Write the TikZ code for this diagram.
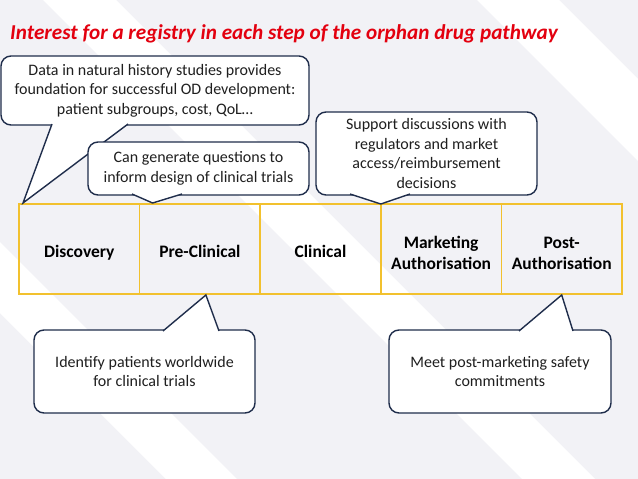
\documentclass[tikz,border=0pt]{standalone}
\usepackage{fontspec}
\setmainfont{Carlito}
\usetikzlibrary{positioning}
\definecolor{navy}{HTML}{1F2D4B}
\definecolor{gold}{HTML}{F2C12E}
\definecolor{titlered}{HTML}{E3000F}
\definecolor{bg}{HTML}{F2F2F6}

\begin{document}
\begin{tikzpicture}[x=1pt,y=-1pt,
  stage/.style={draw=gold,line width=1.6pt,minimum width=120.6pt,minimum height=90pt,
    inner sep=0pt,outer sep=0pt,align=center,font=\fontsize{17.5}{21}\selectfont\bfseries,
    execute at begin node=\rule{0pt}{23pt},execute at end node=\strut},
  bubble/.style={draw=navy,fill=white,line width=1.4pt,rounded corners=10pt,
    align=center,inner sep=0pt,text=black!88,font=\fontsize{16}{19.5}\selectfont},
  tail/.style={draw=navy,fill=white,line width=1.4pt,line join=miter}]
  \fill[bg] (0,0) rectangle (638,479);
  \useasboundingbox (0,0) rectangle (638,479);
  % white diagonal bands of the slide background
  \begin{scope}
    \clip (0,0) rectangle (638,479);
    \fill[white] (-313,0) -- (-242,0) -- (237,479) -- (166,479) -- cycle;
    \fill[white] (43,0) -- (116,0) -- (595,479) -- (522,479) -- cycle;
    \fill[white] (477,0) -- (559,0) -- (1038,479) -- (956,479) -- cycle;
  \end{scope}
  \node[titlered,anchor=base west,inner sep=0pt,font=\fontsize{21.2}{25}\selectfont\bfseries\itshape]
    (title) at (10,39) {Interest for a registry in each step of the orphan drug pathway};

  % the pathway
  \node[stage] (disc) at (79.3,249) {Discovery};
  \node[stage,right=0pt of disc] (precl) {Pre-Clinical};
  \node[stage,right=0pt of precl] (clin) {Clinical};
  \node[stage,right=0pt of clin] (mkt) {\rule{0pt}{26pt}Marketing\\Authorisation};
  \node[stage,right=0pt of mkt] (post) {\rule{0pt}{26pt}Post-\\Authorisation};

  \coordinate (tip1) at ([xshift=4pt,yshift=1pt]disc.north west);
  \coordinate (tip2) at ([xshift=13pt,yshift=1pt]precl.north west);
  \coordinate (tip3) at (mkt.north west);
  \coordinate (tip4) at ([xshift=6pt,yshift=-1pt]precl.south);
  \coordinate (tip5) at ([yshift=-1pt]post.south);

  % callouts above
  \node[bubble,minimum width=308pt,minimum height=69pt] (hist) at (155,90.5)
    {Data in natural history studies provides\\foundation for successful OD development:\\patient subgroups, cost, QoL\dots};
  \draw[tail] (52,124) -- (tip1) -- (128,124);
  \node[bubble,minimum width=221pt,minimum height=53pt] (quest) at (198.5,168.5)
    {Can generate questions to\\inform design of clinical trials};
  \draw[tail] (132,194) -- (tip2) -- (182,194);
  \node[bubble,minimum width=221pt,minimum height=83pt] (supp) at (426.5,153.5)
    {Support discussions with\\regulators and market\\access/reimbursement\\decisions};
  \draw[tail] (350,194) -- (tip3) -- (410,194);

  % callouts below
  \node[bubble,minimum width=221pt,minimum height=83pt] (ident) at (144.5,371.5)
    {Identify patients worldwide\\for clinical trials};
  \draw[tail] (163,331) -- (tip4) -- (219,331);
  \node[bubble,minimum width=222pt,minimum height=83pt] (meet) at (500,371.5)
    {Meet post-marketing safety\\commitments};
  \draw[tail] (519,331) -- (tip5) -- (573,331);
\end{tikzpicture}
\end{document}
